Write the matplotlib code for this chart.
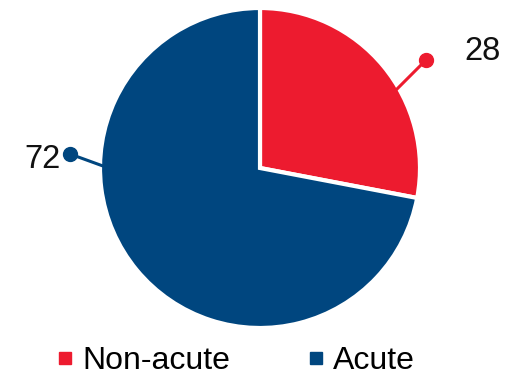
import numpy as np
import matplotlib.pyplot as plt
from matplotlib.lines import Line2D

plt.rcParams['font.family'] = ['Liberation Sans', 'DejaVu Sans']

labels = ['Non-acute', 'Acute']
values = [28, 72]
colors = ['#ED1B2F', '#00467F']

# callout dots, the direction each leader comes in from, and label spots
dot_pos = [(426, 318), (70, 224)]
leader_dir = [45, 160]
text_pos = [(483, 327), (42, 218)]

center = (260, 210)
radius = 160

fig = plt.figure(figsize=(5.17, 3.78), dpi=100)
ax = fig.add_axes([0, 0, 1, 1])

ax.pie(values, colors=colors, startangle=90, counterclock=False,
       center=center, radius=radius, frame=True,
       wedgeprops=dict(edgecolor='white', linewidth=3))
ax.set_xlim(0, 517)
ax.set_ylim(0, 378)
ax.set_aspect('equal')
ax.axis('off')

for val, d, dot, tp, c in zip(values, leader_dir, dot_pos, text_pos, colors):
    a = np.deg2rad(d)
    # leader runs back into the wedge of the same colour
    sx = dot[0] - 60 * np.cos(a)
    sy = dot[1] - 60 * np.sin(a)
    ax.plot([sx, dot[0]], [sy, dot[1]], color=c, lw=2.2, zorder=3)
    ax.plot(dot[0], dot[1], 'o', color=c, ms=10, zorder=4)
    ax.text(tp[0], tp[1], str(val), fontsize=23.5, ha='center', va='center', color='#111111')

handles = [Line2D([], [], marker='s', ls='', color=c, ms=8.5) for c in colors]
fig.legend(handles, labels, loc='center', bbox_to_anchor=(0.452, 0.045), ncol=2,
           frameon=False, fontsize=23, handletextpad=0.12, columnspacing=2.3,
           handlelength=0.8, borderaxespad=0)

fig.savefig('out.png', dpi=100)
